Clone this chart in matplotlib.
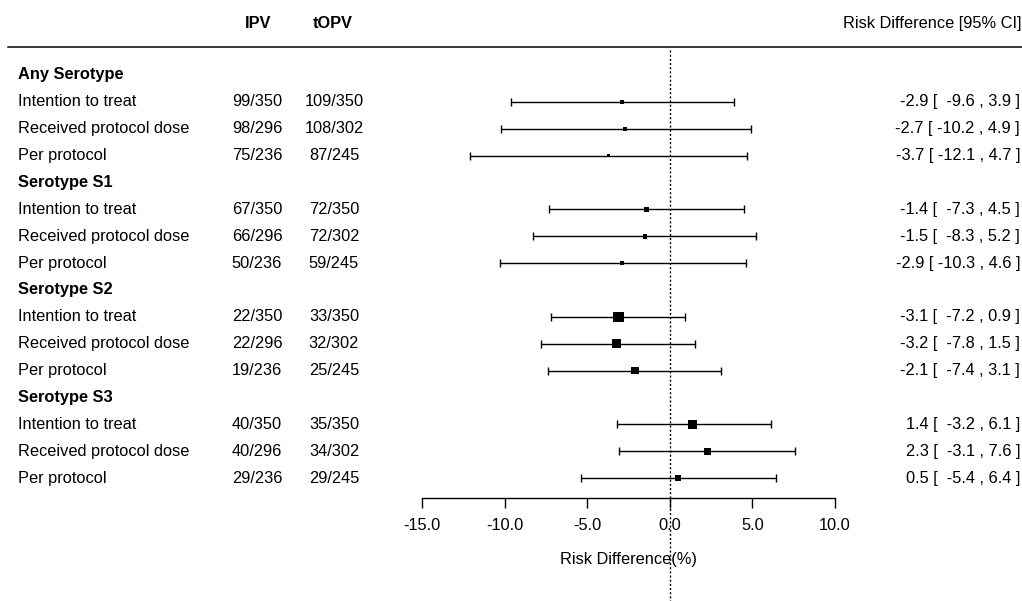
import matplotlib.pyplot as plt
import numpy as np

plt.rcParams['font.family'] = ['Liberation Sans', 'DejaVu Sans']
plt.rcParams['axes.unicode_minus'] = False

# groups and subgroup rows
groups = ['Any Serotype', 'Serotype S1', 'Serotype S2', 'Serotype S3']
analyses = ['Intention to treat', 'Received protocol dose', 'Per protocol']

ipv = [['99/350', '98/296', '75/236'],
       ['67/350', '66/296', '50/236'],
       ['22/350', '22/296', '19/236'],
       ['40/350', '40/296', '29/236']]
topv = [['109/350', '108/302', '87/245'],
        ['72/350', '72/302', '59/245'],
        ['33/350', '32/302', '25/245'],
        ['35/350', '34/302', '29/245']]

est = [[-2.9, -2.7, -3.7],
       [-1.4, -1.5, -2.9],
       [-3.1, -3.2, -2.1],
       [1.4, 2.3, 0.5]]
lower = [[-9.6, -10.2, -12.1],
         [-7.3, -8.3, -10.3],
         [-7.2, -7.8, -7.4],
         [-3.2, -3.1, -5.4]]
upper = [[3.9, 4.9, 4.7],
         [4.5, 5.2, 4.6],
         [0.9, 1.5, 3.1],
         [6.1, 7.6, 6.4]]
# relative weight -> box size (px)
weight = [[4.5, 3.8, 3.2],
          [5.5, 4.6, 3.6],
          [10.5, 9, 7.5],
          [9, 7, 6]]

xticks = [-15, -10, -5, 0, 5, 10]

W, H = 1022, 601
fs = 11.8

fig = plt.figure(figsize=(W / 100, H / 100), dpi=100)
ax = fig.add_axes([0, 0, 1, 1])

# map pixels so that -15 -> 422px, 10 -> 835px; row k -> 75 + 26.87k px
scale = (835 - 422) / 25.0
ax.set_xlim(-15 - 422 / scale, -15 + (W - 422) / scale)
rowh = 26.87
ax.set_ylim((H - 75) / rowh, -75 / rowh)

tr = ax.get_yaxis_transform()

def px(p):
    return p / W

# header
ax.text(px(258), -1.90, 'IPV', transform=tr, ha='center', va='center', fontsize=fs, fontweight='bold')
ax.text(px(333), -1.90, 'tOPV', transform=tr, ha='center', va='center', fontsize=fs, fontweight='bold')
ax.text(px(1021), -1.90, 'Risk Difference [95% CI]', transform=tr, ha='right', va='center', fontsize=fs)
ax.plot([px(8), 1], [-1.04, -1.04], transform=tr, color='black', lw=1.1, clip_on=False)

row = 0
ys, xs, los, his, sz = [], [], [], [], []
for g, name in enumerate(groups):
    ax.text(px(18), row, name, transform=tr, ha='left', va='center', fontsize=fs, fontweight='bold')
    row += 1
    for i, a in enumerate(analyses):
        ax.text(px(18), row, a, transform=tr, ha='left', va='center', fontsize=fs)
        ax.text(px(257), row, ipv[g][i], transform=tr, ha='center', va='center', fontsize=fs)
        ax.text(px(334), row, topv[g][i], transform=tr, ha='center', va='center', fontsize=fs)
        lbl = '%.1f [ %5.1f , %.1f ]' % (est[g][i], lower[g][i], upper[g][i])
        ax.text(px(1020), row, lbl, transform=tr, ha='right', va='center', fontsize=fs)
        ys.append(row)
        xs.append(est[g][i])
        los.append(lower[g][i])
        his.append(upper[g][i])
        sz.append(weight[g][i])
        row += 1

xs = np.array(xs)
ax.errorbar(xs, ys, xerr=[xs - np.array(los), np.array(his) - xs], fmt='none',
            ecolor='black', elinewidth=1.0, capsize=2.6, capthick=1.0)
ax.scatter(xs, ys, s=(np.array(sz) * 0.72) ** 2, marker='s', color='black', zorder=3, linewidths=0)

# reference line at 0
ax.plot([0, 0], [-0.93, (H - 75) / rowh], color='black', lw=1.0, ls=(0, (1.5, 1.5)))

# x axis
for s in ['left', 'top', 'right']:
    ax.spines[s].set_visible(False)
ax.spines['bottom'].set_position(('data', (498 - 75) / rowh))
ax.spines['bottom'].set_bounds(-15, 10)
ax.spines['bottom'].set_linewidth(1.0)
ax.set_yticks([])
ax.set_xticks(xticks)
ax.set_xticklabels(['%.1f' % t for t in xticks])
ax.tick_params(axis='x', direction='out', length=7.2, width=1.0, labelsize=fs, pad=7.5)

ax.text(-2.5, (559 - 75) / rowh, 'Risk Difference(%)', ha='center', va='center', fontsize=fs)

fig.savefig('out.png', dpi=100)
